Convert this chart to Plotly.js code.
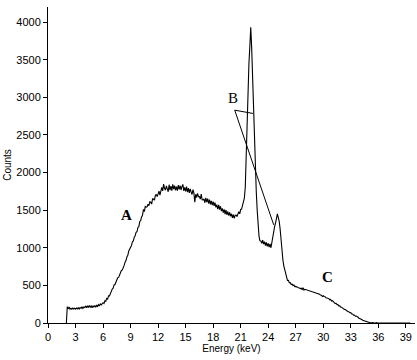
<!DOCTYPE html>
<html>
<head>
<meta charset="utf-8">
<script src="https://cdn.plot.ly/plotly-3.0.1.min.js"></script>
<style>html,body{margin:0;padding:0;background:#fff;}#chart{width:417px;height:360px;}</style>
</head>
<body>
<div id="chart"></div>
<script>
// Energy grid: 2.0 keV to 39.5 keV in 0.1 keV steps (sampling grid of the spectrum)
var energyStart = 2.0;
var energyStep = 0.1;

// Counts, one row per keV (10 samples of 0.1 keV each)
var counts = [
  0, 218, 188, 214, 182, 196, 184, 198, 186, 197,          // 2
  184, 198, 188, 204, 186, 205, 196, 212, 194, 214,        // 3
  206, 224, 204, 230, 206, 234, 210, 228, 204, 230,        // 4
  212, 234, 210, 238, 220, 244, 226, 254, 240, 264,        // 5
  270, 258, 296, 290, 328, 318, 362, 360, 398, 410,        // 6
  452, 462, 506, 512, 552, 562, 602, 606, 648, 655,        // 7
  698, 705, 755, 765, 808, 830, 878, 900, 958, 980,        // 8
  1022, 1030, 1080, 1090, 1140, 1160, 1205, 1215, 1270, 1280, // 9
  1350, 1360, 1410, 1430, 1510, 1480, 1548, 1540, 1545, 1578, // 10
  1560, 1612, 1606, 1580, 1655, 1648, 1632, 1694, 1710, 1680, // 11
  1734, 1752, 1700, 1778, 1802, 1756, 1846, 1790, 1766, 1822, // 12
  1780, 1745, 1838, 1766, 1820, 1758, 1844, 1778, 1826, 1764, // 13
  1814, 1758, 1834, 1776, 1826, 1768, 1812, 1842, 1756, 1802, // 14
  1748, 1814, 1738, 1792, 1728, 1782, 1740, 1708, 1772, 1730, // 15
  1606, 1712, 1668, 1722, 1678, 1680, 1646, 1712, 1638, 1636, // 16
  1650, 1598, 1662, 1608, 1652, 1588, 1640, 1578, 1622, 1568, // 17
  1612, 1558, 1600, 1537, 1573, 1512, 1570, 1508, 1552, 1488, // 18
  1522, 1468, 1511, 1447, 1502, 1438, 1482, 1428, 1470, 1418, // 19
  1452, 1398, 1442, 1390, 1432, 1434, 1416, 1444, 1480, 1450, // 20
  1510, 1514, 1570, 1610, 1660, 1800, 2300, 2800, 3200, 3450, // 21
  3680, 3930, 3650, 3200, 2750, 2300, 2000, 1745, 1500, 1250, // 22
  1150, 1092, 1090, 1058, 1100, 1050, 1080, 1030, 1070, 1020, // 23
  1058, 1010, 1050, 1000, 1080, 1150, 1210, 1280, 1330, 1420, // 24
  1450, 1400, 1350, 1250, 1080, 950, 840, 760, 700, 640,    // 25
  608, 565, 566, 535, 536, 514, 516, 498, 506, 484,         // 26
  486, 478, 474, 468, 466, 458, 462, 442, 468, 438,         // 27
  448, 444, 440, 432, 430, 424, 426, 416, 418, 408,         // 28
  412, 402, 400, 392, 392, 382, 382, 372, 370, 352,         // 29
  362, 352, 350, 334, 336, 328, 326, 308, 312, 292,         // 30
  296, 280, 276, 258, 262, 244, 246, 224, 230, 210,         // 31
  210, 196, 194, 180, 180, 166, 164, 150, 150, 136,         // 32
  138, 120, 120, 104, 106, 90, 92, 76, 76, 62,              // 33
  60, 48, 46, 36, 32, 24, 22, 14, 13, 7,                    // 34
  4, 2, 0, 5, 0, 3, 0, 0, 6, 0,                             // 35
  0, 4, 0, 0, 0, 6, 0, 0, 0, 0,                             // 36
  0, 0, 5, 0, 0, 0, 4, 0, 0, 0,                             // 37
  6, 0, 0, 0, 0, 0, 0, 0, 0, 0,                             // 38
  5, 0, 0, 0, 0, 0                                          // 39
];

var energies = counts.map(function (_, i) { return +(energyStart + i * energyStep).toFixed(2); });

// Axis ticks
var xTicks = [0, 3, 6, 9, 12, 15, 18, 21, 24, 27, 30, 33, 36, 39];
var yTicks = [0, 500, 1000, 1500, 2000, 2500, 3000, 3500, 4000];

// Region labels
var labelText = ["A", "B", "C"];
var labelX = [8.56, 20.17, 30.5];
var labelY = [1436, 2984, 618];

// Pointer lines from label B: start point and the two end points
var pointerStart = [20.35, 2829];
var pointerEnds = [[22.34, 2785], [24.6, 1304]];

var trace = {
  x: energies,
  y: counts,
  type: 'scatter',
  mode: 'lines',
  line: {color: '#000000', width: 1.1},
  hoverinfo: 'skip',
  showlegend: false
};

var boldLabel = {A: 'bold', B: 'normal', C: 'bold'};
var annotations = labelText.map(function (t, i) {
  return {
    x: labelX[i], y: labelY[i], xref: 'x', yref: 'y', text: t, showarrow: false,
    font: {family: 'Liberation Serif, Times New Roman, serif', size: 15, color: '#000', weight: boldLabel[t]}
  };
});

var shapes = pointerEnds.map(function (e) {
  return {
    type: 'line', xref: 'x', yref: 'y',
    x0: pointerStart[0], y0: pointerStart[1], x1: e[0], y1: e[1],
    line: {color: '#000', width: 1}
  };
});

var layout = {
  width: 417, height: 360,
  margin: {l: 48, r: 2, t: 7, b: 37, pad: 0},
  paper_bgcolor: '#ffffff', plot_bgcolor: '#ffffff',
  font: {family: 'Liberation Sans, Arial, sans-serif', size: 11, color: '#000'},
  showlegend: false,
  xaxis: {
    range: [0, 40], tickvals: xTicks, ticktext: xTicks.map(String),
    showgrid: false, zeroline: false, showline: true, linecolor: '#000', linewidth: 1,
    ticks: 'outside', ticklen: 4, tickcolor: '#000', tickwidth: 1,
    tickfont: {size: 11},
    title: {text: 'Energy (keV)', font: {size: 10}, standoff: 2}
  },
  yaxis: {
    range: [0, 4200], tickvals: yTicks, ticktext: yTicks.map(String),
    showgrid: false, zeroline: false, showline: true, linecolor: '#000', linewidth: 1,
    ticks: 'outside', ticklen: 4, tickcolor: '#000', tickwidth: 1,
    tickfont: {size: 11},
    title: {text: 'Counts', font: {size: 10}, standoff: 2}
  },
  annotations: annotations,
  shapes: shapes
};

Plotly.newPlot('chart', [trace], layout, {staticPlot: true, displayModeBar: false});
</script>
</body>
</html>
